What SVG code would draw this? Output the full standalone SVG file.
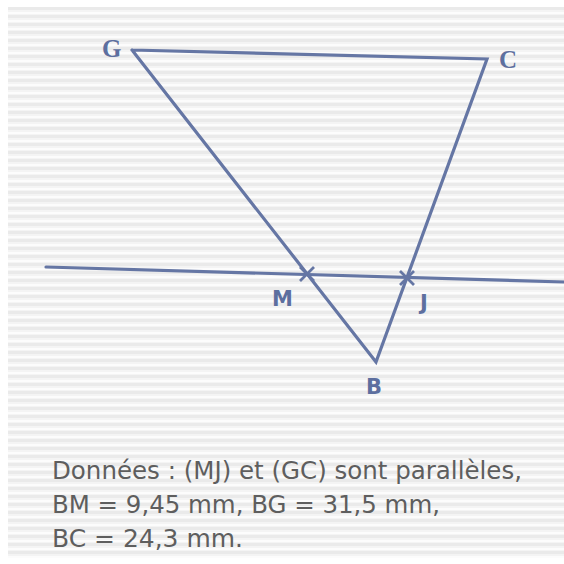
<svg xmlns="http://www.w3.org/2000/svg" width="564" height="564" viewBox="0 0 564 564">
<defs>
<pattern id="stripes" x="0" y="7" width="8" height="8" patternUnits="userSpaceOnUse">
<rect width="8" height="8" fill="#f4f4f4"/>
<rect y="0" width="8" height="3" fill="#eaeaea"/>
<rect y="5" width="8" height="2" fill="#fcfcfc"/>
</pattern>
<style>
.ln{stroke:#6576a4;stroke-width:3.2;fill:none;stroke-linecap:round;stroke-linejoin:miter}
.mk{stroke:#6576a4;stroke-width:2.8;fill:none}
.lbs{font-family:"Liberation Serif","DejaVu Serif",serif;font-weight:bold;font-size:25px;fill:#5d6f9f}
.lb{font-family:"DejaVu Sans","Liberation Sans",sans-serif;font-weight:bold;font-size:21px;fill:#5d6f9f}
.tx{font-family:"DejaVu Sans","Liberation Sans",sans-serif;font-size:24px;fill:#5e5e5e}
</style>
</defs>
<rect width="564" height="564" fill="#ffffff"/>
<rect x="8" y="7" width="556" height="551" fill="url(#stripes)"/>
<g id="connectors">
<polyline class="ln" points="132,50 487,59 376,362 132,50"/>
<line class="ln" x1="46" y1="267" x2="564" y2="282"/>
</g>
<g id="M">
<path class="mk" d="M300,267 L314,281 M314,267 L300,281"/>
<text class="lb" x="272" y="306">M</text>
</g>
<g id="J">
<path class="mk" d="M400,271 L414,285 M414,271 L400,285"/>
<text class="lb" x="420" y="310">J</text>
</g>
<g id="G"><text class="lbs" x="102" y="57">G</text></g>
<g id="C"><text class="lbs" x="499" y="68">C</text></g>
<g id="B"><text class="lb" x="366" y="394">B</text></g>
<g id="data">
<text class="tx" x="52" y="479" textLength="470" lengthAdjust="spacingAndGlyphs">Données : (MJ) et (GC) sont parallèles,</text>
<text class="tx" x="52" y="513" textLength="388" lengthAdjust="spacingAndGlyphs">BM = 9,45 mm, BG = 31,5 mm,</text>
<text class="tx" x="52" y="547" textLength="191" lengthAdjust="spacingAndGlyphs">BC = 24,3 mm.</text>
</g>
</svg>
